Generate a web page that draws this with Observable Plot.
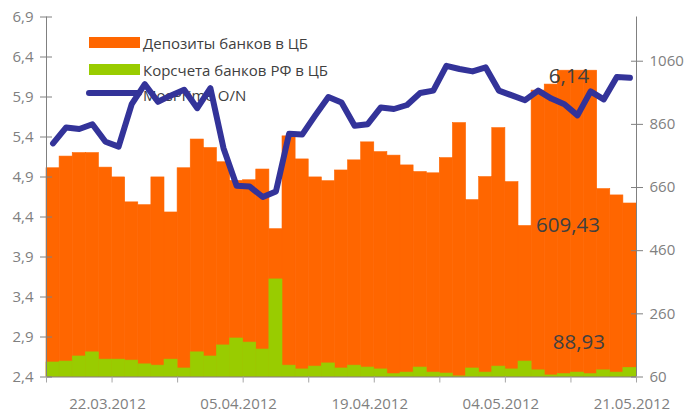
<!DOCTYPE html>
<html><head><meta charset="utf-8">
<script src="https://cdn.jsdelivr.net/npm/d3@7"></script>
<script src="https://cdn.jsdelivr.net/npm/@observablehq/plot@0.6"></script>
<style>
body{margin:0;background:#fff;}
#wrap{position:relative;width:687px;height:412px;overflow:hidden;}
#legend{position:absolute;left:0;top:0;width:687px;height:412px;z-index:0;font-family:"Open Sans",sans-serif;font-size:15px;color:#404040;}
#chart{position:absolute;left:0;top:0;z-index:1;}
.sw{position:absolute;}
.lt{position:absolute;white-space:nowrap;line-height:1;transform:translateY(-50%);}
</style></head><body>
<div id="wrap"><div id="legend"></div><div id="chart"></div></div>
<script>
// Trading days (category axis)
const dates = ["16.03.2012","19.03.2012","20.03.2012","21.03.2012","22.03.2012","23.03.2012","26.03.2012","27.03.2012","28.03.2012","29.03.2012",
"30.03.2012","02.04.2012","03.04.2012","04.04.2012","05.04.2012","06.04.2012","09.04.2012","10.04.2012","11.04.2012","12.04.2012",
"13.04.2012","16.04.2012","17.04.2012","18.04.2012","19.04.2012","20.04.2012","23.04.2012","24.04.2012","25.04.2012","26.04.2012",
"27.04.2012","28.04.2012","02.05.2012","03.05.2012","04.05.2012","05.05.2012","10.05.2012","11.05.2012","12.05.2012","14.05.2012",
"15.05.2012","16.05.2012","17.05.2012","18.05.2012","21.05.2012"];
// Депозиты банков в ЦБ, млрд руб. (right axis)
const deposits = [721,758,769,769,723,692,613,604,692,581,
721,812,785,740,681,683,717,528,822,749,
692,680,714,746,803,772,761,730,709,705,
753,864,620,693,848,677,538,967,986,1030,
1030,1030,655,635,609.43];
// Корсчета банков РФ в ЦБ, млрд руб. (right axis)
const corr = [106,109,125,138,115,115,112,100,96,115,
87,138,125,160,182,169,147,369,96,84,
93,103,87,96,90,84,69,74,90,74,
71,62,87,74,93,84,109,81,65,69,
74,69,81,74,88.93];
// MosPrime O/N, % (left axis)
const mosprime = [5.32,5.52,5.50,5.56,5.34,5.28,5.81,6.06,5.84,5.92,
5.99,5.76,6.01,5.26,4.79,4.78,4.65,4.72,5.44,5.43,
5.67,5.90,5.83,5.54,5.56,5.77,5.75,5.80,5.95,5.98,
6.29,6.25,6.22,6.27,5.98,5.92,5.86,5.98,5.88,5.81,
5.67,5.97,5.87,6.15,6.14];
const leftTicks = [2.4,2.9,3.4,3.9,4.4,4.9,5.4,5.9,6.4,6.9];
const rightTicks = [60,260,460,660,860,1060];
const labelIdx = [4,14,24,34,44];
const seriesNames = ["Депозиты банков в ЦБ","Корсчета банков РФ в ЦБ","MosPrime O/N"];
const colors = ["#FF6600","#99CC00","#333399"];

// right axis [60, 1200] mapped onto the left axis [2.4, 6.9]
const R0 = 60, R1 = 1200, L0 = 2.4, L1 = 6.9;
const toLeft = v => L0 + (v - R0) * (L1 - L0) / (R1 - R0);
const toRight = v => R0 + (v - L0) * (R1 - R0) / (L1 - L0);
const comma = (v, n) => v.toFixed(n).replace(".", ",");
const idx = d3.range(dates.length);
const last = idx.length - 1;
const gray = "#808080";

const chart = Plot.plot({
  width: 687, height: 412,
  marginLeft: 46, marginRight: 51, marginTop: 16.5, marginBottom: 35.5,
  x: {domain: [0, dates.length], axis: null},
  y: {domain: [L0, L1], axis: null},
  style: {background: "transparent", fontFamily: "Open Sans, sans-serif", fontSize: "15px", color: gray},
  marks: [
    Plot.rect(idx, {x1: i => i, x2: i => i + 1, y1: L0, y2: i => toLeft(deposits[i]), fill: colors[0], stroke: colors[0], strokeWidth: 0.6}),
    Plot.rect(idx, {x1: i => i, x2: i => i + 1, y1: L0, y2: i => toLeft(corr[i]), fill: colors[1], stroke: colors[1], strokeWidth: 0.6}),
    Plot.ruleX([0, dates.length], {stroke: gray, strokeWidth: 1}),
    Plot.ruleY([L0], {stroke: gray, strokeWidth: 1}),
    Plot.axisY({anchor: "left", ticks: leftTicks, tickSize: 12, dx: 6, tickPadding: 7, tickFormat: d => comma(d, 1), stroke: gray, fill: gray}),
    Plot.axisY({anchor: "right", ticks: rightTicks.map(toLeft), tickSize: 12, dx: -6, tickPadding: 7, tickFormat: d => String(Math.round(toRight(d))), stroke: gray, fill: gray}),
    Plot.axisX({ticks: d3.range(0, dates.length + 1, 5), tickSize: 6, tickFormat: () => "", stroke: "#a6a6a6"}),
    Plot.axisX({ticks: labelIdx.map(i => i + 0.5), tickSize: 0, tickPadding: 21, tickFormat: d => dates[Math.floor(d)], fill: gray, dx: 2}),
    Plot.line(idx, {x: i => i + 0.5, y: i => mosprime[i], stroke: colors[2], strokeWidth: 6, strokeLinejoin: "round", strokeLinecap: "round"}),
    Plot.text([last], {x: i => i + 0.5, y: i => mosprime[i], text: i => comma(mosprime[i], 2), dx: -61, dy: -1, fontSize: 20.5, fill: "#404040"}),
    Plot.text([last], {x: i => i + 0.5, y: i => toLeft(deposits[i]), text: i => comma(deposits[i], 2), dx: -62, dy: 22, fontSize: 20.5, fill: "#404040"}),
    Plot.text([last], {x: i => i + 0.5, y: i => toLeft(corr[i]), text: i => comma(corr[i], 2), dx: -51, dy: -25, fontSize: 20.5, fill: "#404040"})
  ]
});
document.getElementById("chart").appendChild(chart);

// legend (drawn beneath the chart svg, as in the original)
const lg = document.getElementById("legend");
const rows = [
  {sw: {left: 89, top: 37, width: 51, height: 11, radius: 0}, ty: 42.5},
  {sw: {left: 89, top: 64, width: 51, height: 11, radius: 0}, ty: 69.5},
  {sw: {left: 86, top: 90, width: 56, height: 6, radius: 3}, ty: 95}
];
rows.forEach((r, k) => {
  const s = document.createElement("div");
  s.className = "sw";
  Object.assign(s.style, {left: r.sw.left + "px", top: r.sw.top + "px", width: r.sw.width + "px", height: r.sw.height + "px", borderRadius: r.sw.radius + "px", background: colors[k]});
  lg.appendChild(s);
  const t = document.createElement("div");
  t.className = "lt";
  t.textContent = seriesNames[k];
  Object.assign(t.style, {left: "143px", top: r.ty + "px"});
  lg.appendChild(t);
});
</script>
</body></html>
